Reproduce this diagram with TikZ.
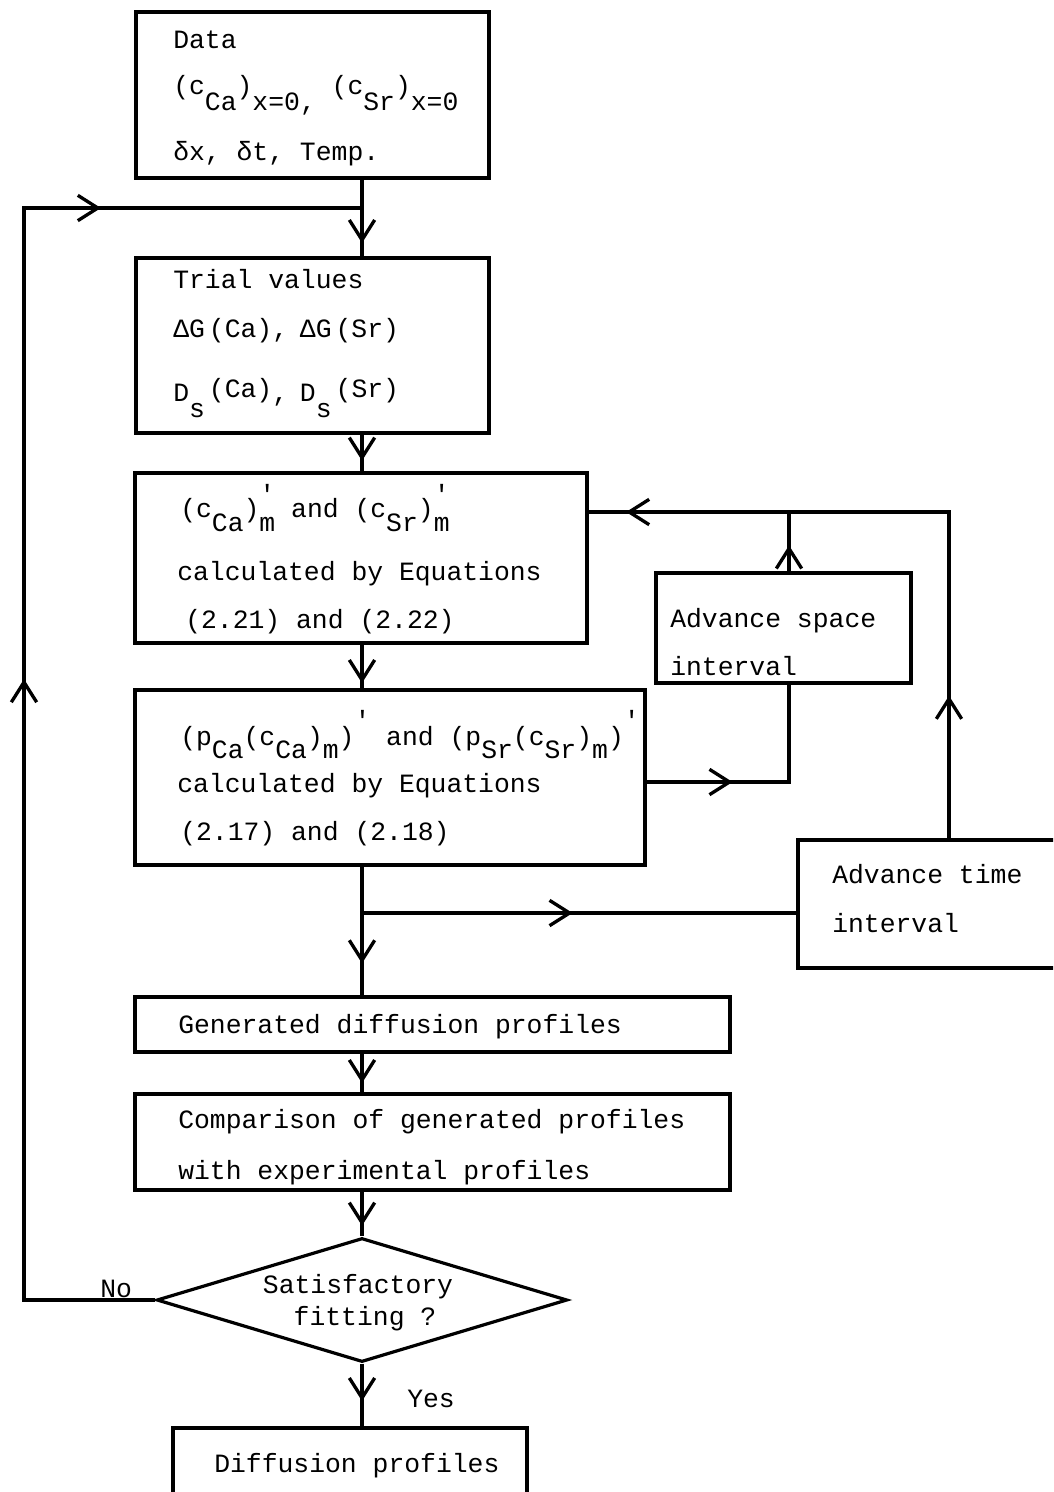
\documentclass[tikz,border=0pt]{standalone}
\usepackage{fontspec}
\newfontfamily\tw{Liberation Mono}
\usetikzlibrary{arrows.meta,decorations.markings,fit,shapes.geometric}
\newcommand\lo[2][11pt]{\raisebox{-#1}{#2}}
\newcommand\prm[1][10pt]{\raisebox{#1}{'}}
\tikzset{
  vtip/.tip={Straight Barb[length=15pt,width=19pt]},
  box/.style={draw, line width=2.4pt, rectangle, inner sep=0pt},
  txt/.style={anchor=base west, inner sep=0pt, font=\tw\fontsize{19.8}{24}\selectfont},
  ctxt/.style={txt, anchor=base},
  conn/.style={line width=2.5pt},
  tip at/.style={postaction={decorate, decoration={markings, mark=at position #1 with {\arrow{vtip}}}}},
}
\begin{document}
\begin{tikzpicture}[x=0.75pt, y=-0.75pt, line join=miter]
\useasboundingbox (0,0) rectangle (1053,1492);
\clip (0,0) rectangle (1053,1492);
\fill[white] (0,0) rectangle (1053,1492);

% boxes
\node[box, fit={(136,12) (489,178)}] (data) {};
\node[box, fit={(136,258) (489,433)}] (trial) {};
\node[box, fit={(135,473) (587,643)}] (b3) {};
\node[box, fit={(135,690) (645,865)}] (b4) {};
\node[box, fit={(656,573) (911,683)}] (space) {};
\node[box, fit={(798,840) (1075,968)}] (time) {};
\node[box, fit={(135,997) (730,1052)}] (gen) {};
\node[box, fit={(135,1094) (730,1190)}] (comp) {};
\node[draw, line width=2.4pt, diamond, inner sep=0pt, minimum width=308pt, minimum height=93pt] (dia) at (362,1300) {};
\node[box, fit={(173,1428) (527,1515)}] (dif) {};

% texts
\node[txt] (tdata1) at (173,48) {Data};
\node[txt] (tdata2) at (173,94) {(c\lo[12pt]{Ca})\lo[12pt]{x=0,} (c\lo[12pt]{Sr})\lo[12pt]{x=0}};
\node[txt] (tdata3) at (173,160) {δx, δt, Temp.};

\node[txt] (ttr1) at (173,288) {Trial values};
\node[txt] (ttr2) at (173,337) {ΔG\kern3pt(Ca),\kern-3pt{} ΔG\kern3pt(Sr)};
\node[txt] (ttr3) at (173,401) {D\lo[12pt]{s}\kern3pt\raisebox{3pt}{(Ca)},\kern-3pt{} D\lo[12pt]{s}\kern3pt\raisebox{3pt}{(Sr)}};

\node[txt] (tb31) at (180,517) {(c\lo{Ca})\rlap{\prm[10pt]}\lo{m} and (c\lo{Sr})\rlap{\prm[10pt]}\lo{m}};
\node[txt] (tb32) at (177,580) {calculated by Equations};
\node[txt] (tb33) at (185,628) {(2.21) and (2.22)};

\node[txt] (tb41) at (180,745) {(p\lo[10pt]{Ca}(c\lo[10pt]{Ca})\lo[10pt]{m})\prm[12pt] and (p\lo[10pt]{Sr}(c\lo[10pt]{Sr})\lo[10pt]{m})\prm[12pt]};
\node[txt] (tb42) at (177,792) {calculated by Equations};
\node[txt] (tb43) at (180,840) {(2.17) and (2.18)};

\node[txt] (tsp1) at (670,627) {Advance space};
\node[txt] (tsp2) at (670,675) {interval};
\node[txt] (tti1) at (832,883) {Advance time};
\node[txt] (tti2) at (832,932) {interval};

\node[txt] (tgen) at (178,1033) {Generated diffusion profiles};
\node[txt] (tcmp1) at (178,1128) {Comparison of generated profiles};
\node[txt] (tcmp2) at (178,1179) {with experimental profiles};
\node[ctxt] (tdia1) at (358,1293) {Satisfactory};
\node[ctxt] (tdia2) at (365,1325) {fitting ?};
\node[txt] (tno) at (100,1297) {No};
\node[txt] (tyes) at (407,1407) {Yes};
\node[txt] (tdif) at (214,1472) {Diffusion profiles};

% coordinates
\coordinate (mx) at (362,0);
\coordinate (lb) at (24,1300);
\coordinate (lt) at (24,208);
\coordinate (j1) at (362,208);
\coordinate (tt) at (949,512);
\coordinate (sx) at (789,512);
\coordinate (sb) at (789,782);
\coordinate (tj) at (362,913);

% main flow
\draw[conn, tip at=-10pt] (data.south -| mx) -- (trial.north -| mx);
\draw[conn, tip at=-8pt] (trial.south -| mx) -- (b3.north -| mx);
\draw[conn, tip at=-4pt] (b3.south -| mx) -- (b4.north -| mx);
\draw[conn, tip at=-24pt] (b4.south -| mx) -- (gen.north -| mx);
\draw[conn, tip at=-7pt] (gen.south -| mx) -- (comp.north -| mx);
\draw[conn, tip at=-8pt] (comp.south -| mx) -- (dia.north);
\draw[conn, tip at=-19pt] (dia.south) -- (dif.north -| mx);

% No loop
\draw[conn, tip at=564pt, tip at=975pt] (dia.west) -- (lb) -- (lt) -- (j1);

% time loop
\draw[conn, tip at=107pt, tip at=487pt] (time.north -| tt) -- (tt) -- (tt -| b3.east);
\draw[conn, tip at=158pt] (tj) -- (tj -| time.west);

% space loop
\draw[conn, tip at=19.5pt] (space.north -| sx) -- (sx);
\draw[conn, tip at=64.5pt] (sb -| b4.east) -- (sb) -- (space.south -| sb);
\end{tikzpicture}
\end{document}
